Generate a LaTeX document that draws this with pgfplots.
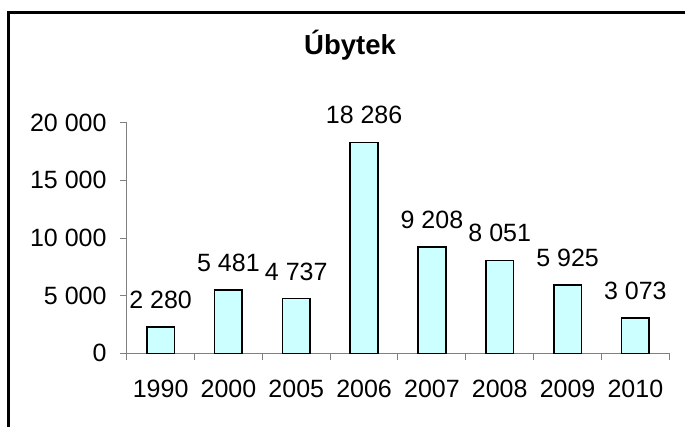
\documentclass[border=0pt]{standalone}
\usepackage{pgfplots}
\pgfplotsset{compat=1.18}
\usepackage{fontspec}
\setmainfont{Liberation Sans}
\definecolor{barcyan}{HTML}{CCFFFF}
\definecolor{axgray}{HTML}{808080}
\begin{document}
\begin{tikzpicture}[x=1pt,y=1pt]
\path[use as bounding box] (0,0) rectangle (685,426);
\draw[line width=2.7pt] (700,413.7) -| (8.7,-20);
\node[font=\bfseries\fontsize{27.5}{30}\selectfont, anchor=base, inner sep=0pt] at (350,371) {Úbytek};
\begin{axis}[
  at={(126.7pt,72.7pt)}, anchor=south west,
  scale only axis, width=542.6pt, height=230.6pt,
  xmin=-0.5, xmax=7.5, ymin=0, ymax=20000,
  axis x line*=bottom, axis y line*=left,
  ybar, bar width=27.7pt,
  xtick={0,...,7},
  xticklabels={1990,2000,2005,2006,2007,2008,2009,2010},
  minor xtick={-0.5,0.5,...,7.5},
  ytick={0,5000,10000,15000,20000},
  tick align=outside, major tick length=7pt, minor tick length=7pt,
  axis line style={axgray, line width=1pt},
  tick style={axgray, line width=1pt},
  major x tick style={draw=none},
  scaled y ticks=false,
  /pgf/number format/1000 sep={\ },
  /pgf/number format/assume math mode=true,
  tick label style={font=\fontsize{25}{29}\selectfont, text=black},
  yticklabel style={inner sep=0pt, anchor=east, xshift=-13pt},
  xticklabel style={inner sep=0pt, anchor=north, yshift=-19.5pt},
  nodes near coords,
  every node near coord/.append style={font=\fontsize{25}{29}\selectfont, text=black, anchor=south, inner sep=0pt, yshift=17.5pt},
]
\addplot[fill=barcyan, draw=black, line width=1.6pt] coordinates {
  (0,2280) (1,5481) (2,4737) (3,18286) (4,9208) (5,8051) (6,5925) (7,3073)
};
\end{axis}
\end{tikzpicture}
\end{document}
